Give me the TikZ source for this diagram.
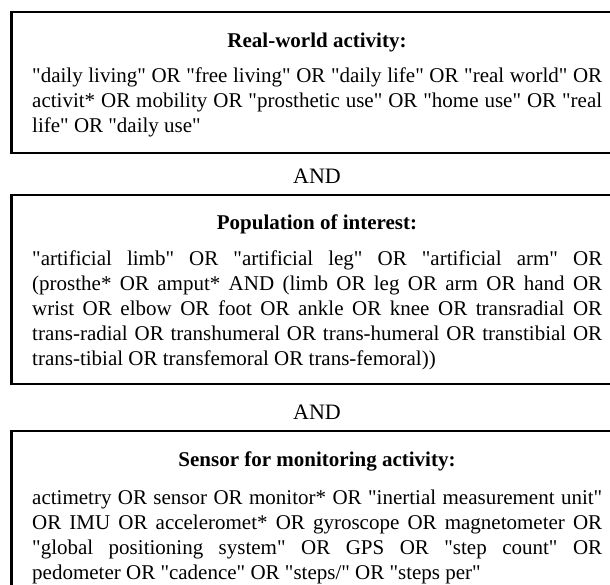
\documentclass[tikz,border=0pt]{standalone}
\usepackage{fontspec}
\setmainfont{Liberation Serif}[Ligatures=TeXOff]
\begin{document}
\begin{tikzpicture}[x=1pt,y=-1pt,
  frame/.style={line width=2.4pt},
  boxtitle/.style={font=\fontsize{21}{25}\selectfont\bfseries, inner sep=0pt, anchor=base},
  boxbody/.style={font=\fontsize{21}{25}\selectfont, text width=570pt, align=justify, inner sep=0pt, anchor=base west},
  andlabel/.style={font=\fontsize{22}{25}\selectfont, inner sep=0pt, anchor=base}]
\useasboundingbox (0,0) rectangle (610,584);
\fill[white] (0,0) rectangle (610,584);
\clip (0,0) rectangle (610,584);
% frames
\draw[frame] (11.5,12) rectangle (660,153);
\draw[frame] (11.5,195) rectangle (660,384);
\draw[frame] (11.5,431) rectangle (660,640);
% box 1
\node[boxtitle] (t1) at (317,47) {Real-world activity:};
\node[boxbody] (b1) at (32,82) {"daily living" OR "free living" OR "daily life" OR "real world" OR\linebreak
activit* OR mobility OR "prosthetic use" OR "home use" OR "real\linebreak
life" OR "daily use"};
\node[andlabel] (and1) at (317,183) {AND};
% box 2
\node[boxtitle] (t2) at (317,229) {Population of interest:};
\node[boxbody] (b2) at (32,265) {"artificial limb" OR "artificial leg" OR "artificial arm" OR\linebreak
(prosthe* OR amput* AND (limb OR leg OR arm OR hand OR\linebreak
wrist OR elbow OR foot OR ankle OR knee OR transradial OR\linebreak
trans-radial OR transhumeral OR trans-humeral OR transtibial OR\linebreak
trans-tibial OR transfemoral OR trans-femoral))};
\node[andlabel] (and2) at (317,419) {AND};
% box 3
\node[boxtitle] (t3) at (317,466) {Sensor for monitoring activity:};
\node[boxbody] (b3) at (32,504) {actimetry OR sensor OR monitor* OR "inertial measurement unit"\linebreak
OR IMU OR acceleromet* OR gyroscope OR magnetometer OR\linebreak
"global positioning system" OR GPS OR "step count" OR\linebreak
pedometer OR "cadence" OR "steps/" OR "steps per"};
\end{tikzpicture}
\end{document}
